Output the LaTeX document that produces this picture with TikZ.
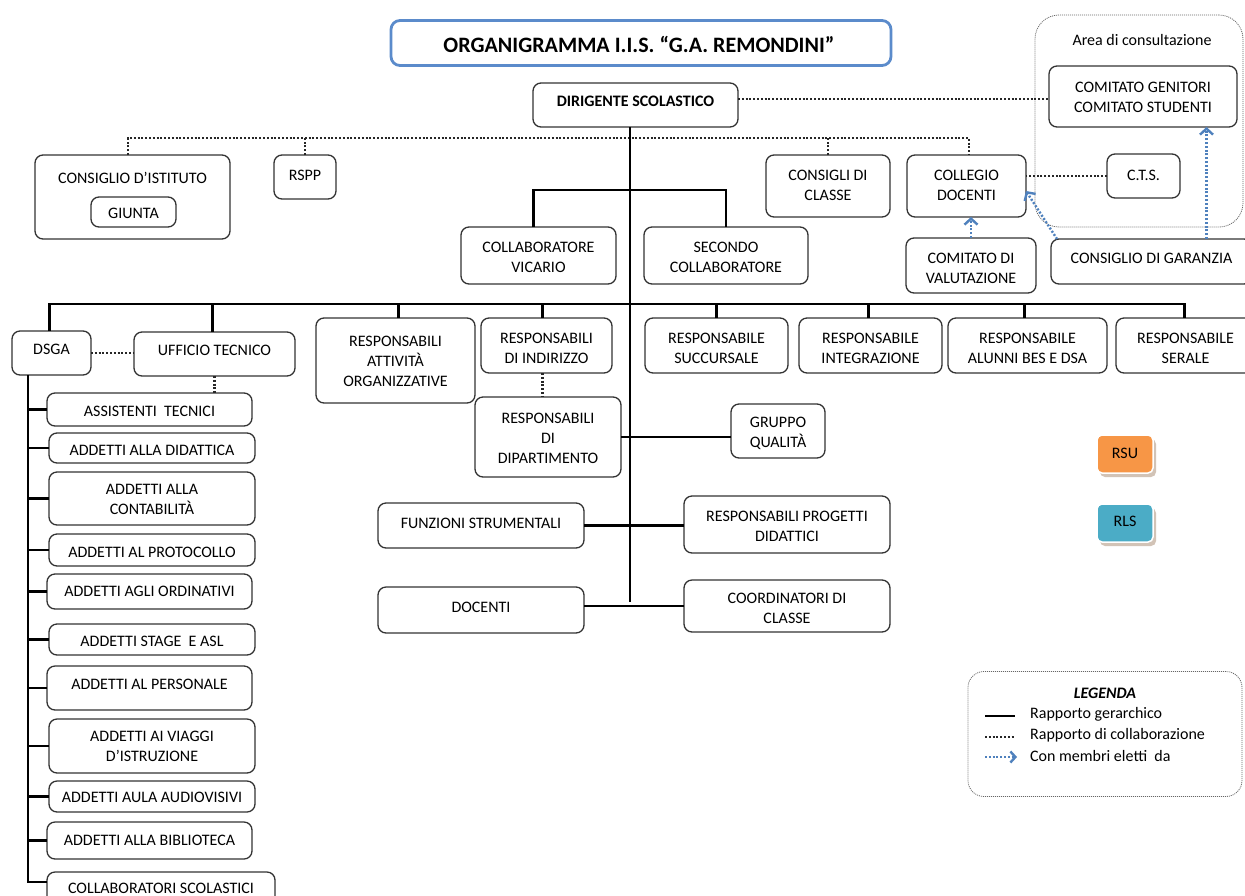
\documentclass[tikz,border=0pt]{standalone}
\usepackage{fontspec}
\setmainfont{Carlito}
\usetikzlibrary{arrows.meta,shadows}
\definecolor{bl}{HTML}{4F81BD}
\definecolor{ttl}{HTML}{5B8BCB}
\definecolor{rsuc}{HTML}{F79646}
\definecolor{rlsc}{HTML}{4BACC6}
\definecolor{bd}{HTML}{333333}
\definecolor{shd}{HTML}{D2C3B6}
\newcommand\bx[7]{%
  \node[box,minimum width={#4-#2},minimum height={#5-#3}] (#1) at ({(#2+#4)/2},{(#3+#5)/2}) {};
  \node[txt] (#1-t) at ({(#2+#4)/2},#6) {#7};}
\begin{document}
\begin{tikzpicture}[x=1pt,y=-1pt,
  box/.style={draw=bd,line width=1.3pt,rounded corners=8pt,fill=white,inner sep=0pt,outer sep=0pt},
  txt/.style={font=\fontsize{16}{20}\selectfont,align=center,inner sep=0pt},
  hier/.style={line width=2.8pt,draw=black},
  collab/.style={line width=2.8pt,draw=black!85,dash pattern=on 2pt off 1.8pt},
  elect/.style={line width=2.4pt,draw=bl,dash pattern=on 2pt off 1.8pt,-{Straight Barb[length=6pt,width=13pt,line width=2.4pt]}},
  framebox/.style={draw=black!60,line width=0.8pt,dash pattern=on 1pt off 1pt,rounded corners=24pt,inner sep=0pt,outer sep=0pt},
  colbox/.style={draw=white,line width=1.5pt,rounded corners=5pt,inner sep=0pt,outer sep=0pt,
    drop shadow={shadow xshift=3pt,shadow yshift=-4pt,fill=shd,opacity=1}},
  ]
\useasboundingbox (0,0) rectangle (1245,895);
\fill[white] (0,0) rectangle (1245,895);

% area di consultazione
\node[framebox,minimum width=208,minimum height=212] (area) at (1139,121) {};
\node[txt,font=\fontsize{16}{20}\selectfont] (area-t) at (1142,40) {Area di consultazione};

% title
\node[draw=ttl,line width=2.8pt,rounded corners=9pt,fill=white,minimum width=500,minimum height=45,inner sep=0pt] (title) at (641,43) {};
\node[inner sep=0pt,font=\fontsize{22}{26}\selectfont\bfseries] (title-t) at (639,44) {ORGANIGRAMMA I.I.S. “G.A. REMONDINI”};

% top
\bx{ds}{533}{83}{738}{127}{101}{\textbf{DIRIGENTE SCOLASTICO}}
\bx{cg}{1049}{66}{1237}{127}{97}{COMITATO GENITORI\\COMITATO STUDENTI}
\bx{cts}{1107}{154}{1180}{198}{175}{C.T.S.}
\bx{ci}{35}{155}{230}{239}{178}{CONSIGLIO D’ISTITUTO}
\bx{giunta}{91}{197}{176}{227}{213}{GIUNTA}
\bx{rspp}{274}{155}{336}{199}{175}{RSPP}
\bx{cc}{766}{155}{890}{217}{185}{CONSIGLI DI\\CLASSE}
\bx{cd}{907}{155}{1026}{217}{185}{COLLEGIO\\DOCENTI}
\bx{cval}{906}{238}{1036}{293}{268}{COMITATO DI\\VALUTAZIONE}
\bx{cgar}{1051}{239}{1252}{284}{258}{CONSIGLIO DI GARANZIA}

% second level
\bx{cv}{461}{227}{616}{284}{257}{COLLABORATORE\\VICARIO}
\bx{sc}{644}{227}{808}{284}{257}{SECONDO\\COLLABORATORE}

% third level
\bx{dsga}{12}{331}{91}{375}{349}{DSGA}
\bx{ut}{134}{332}{295}{376}{350}{UFFICIO TECNICO}
\bx{rao}{316}{318}{475}{403}{361}{RESPONSABILI\\ATTIVITÀ\\ORGANIZZATIVE}
\bx{rdi}{481}{318}{612}{373}{348}{RESPONSABILI\\DI INDIRIZZO}
\bx{rdp}{475}{397}{621}{477}{438}{RESPONSABILI\\DI\\DIPARTIMENTO}
\bx{gq}{731}{404}{825}{458}{433}{GRUPPO\\QUALITÀ}
\bx{rsu}{645}{318}{788}{373}{348}{RESPONSABILE\\SUCCURSALE}
\bx{rin}{799}{318}{942}{373}{348}{RESPONSABILE\\INTEGRAZIONE}
\bx{rab}{948}{318}{1107}{373}{348}{RESPONSABILE\\ALUNNI BES E DSA}
\bx{rse}{1116}{318}{1255}{373}{348}{RESPONSABILE\\SERALE}

\bx{fs}{378}{503}{584}{548}{523}{FUNZIONI STRUMENTALI}
\bx{rpd}{684}{496}{890}{553}{526}{RESPONSABILI PROGETTI\\DIDATTICI}
\bx{doc}{378}{587}{584}{633}{607}{DOCENTI}
\bx{coord}{684}{580}{890}{632}{608}{COORDINATORI DI\\CLASSE}

% DSGA column
\bx{at}{47}{393}{252}{426}{411}{ASSISTENTI \ TECNICI}
\bx{ad}{49}{433}{255}{463}{450}{ADDETTI ALLA DIDATTICA}
\bx{ac}{49}{472}{255}{525}{499}{ADDETTI ALLA\\CONTABILITÀ}
\bx{ap}{49}{534}{255}{566}{552}{ADDETTI AL PROTOCOLLO}
\bx{ao}{47}{574}{252}{609}{591}{ADDETTI AGLI ORDINATIVI}
\bx{as}{49}{624}{255}{655}{641}{ADDETTI STAGE \ E ASL}
\bx{apers}{47}{666}{252}{710}{684}{ADDETTI AL PERSONALE}
\bx{av}{49}{719}{255}{773}{746}{ADDETTI AI VIAGGI\\D’ISTRUZIONE}
\bx{aa}{49}{781}{255}{812}{797}{ADDETTI AULA AUDIOVISIVI}
\bx{ab}{47}{822}{252}{859}{840}{ADDETTI ALLA BIBLIOTECA}
\bx{cs}{47}{872}{275}{905}{888}{COLLABORATORI SCOLASTICI}

% RSU / RLS
\node[colbox,fill=rsuc,minimum width=56,minimum height=38] (rsuN) at (1125,454) {};
\node[txt] (rsuN-t) at (1125,453) {RSU};
\node[colbox,fill=rlsc,minimum width=56,minimum height=38] (rls) at (1125,523) {};
\node[txt] (rls-t) at (1125,521) {RLS};

% ---------- connectors ----------
\coordinate (top) at (630,138);
\coordinate (spine) at (630,602);
\coordinate (bus2) at (630,190);
\coordinate (bus3) at (630,304);
\coordinate (col) at (28,882);

% collaboration (dotted)
\draw[collab] ([xshift=-4.5pt]ci.north) -- ([xshift=-4.5pt]ci.north |- top) -- ([xshift=2.5pt]cd.north |- top) -- ([xshift=2.5pt]cd.north);
\draw[collab] (rspp.north) -- (rspp.north |- top);
\draw[collab] (cc.north) -- (cc.north |- top);
\draw[collab] ([yshift=6pt]ds.east) -- ([yshift=6pt]ds.east -| cg.west);
\draw[collab] (cts.west) -- (cts.west -| cd.east);
\draw[collab] (dsga.east) -- (dsga.east -| ut.west);
\draw[collab] (ut.south) -- (ut.south |- at.north);
\draw[collab] ([xshift=-4pt]rdi.south) -- ([xshift=-4pt]rdi.south |- rdp.north);

% hierarchy (solid)
\draw[hier] (ds.south -| spine) -- (spine);
\draw[hier] ([xshift=-5pt]cv.north) -- ([xshift=-5pt]cv.north |- bus2) -- (sc.north |- bus2) -- (sc.north);
\draw[hier] ([xshift=-2pt]dsga.north) -- ([xshift=-2pt]dsga.north |- bus3) -- ([xshift=-1pt]rse.north |- bus3) -- ([xshift=-1pt]rse.north);
\foreach \n/\s in {ut/-2,rao/3,rdi/-4,rsu/0,rin/-2,rab/-3}
  \draw[hier] ([xshift=\s pt]\n.north) -- ([xshift=\s pt]\n.north |- bus3);
\draw[hier] (rdp.east) -- (rdp.east -| gq.west);
\draw[hier] (fs.east) -- (fs.east -| rpd.west);
\draw[hier] (coord.west) -- (coord.west -| doc.east);
\draw[hier] (dsga.south -| col) -- (col) -- (col -| cs.west);
\foreach \n in {at,ad,ac,ap,ao,as,apers,av,aa,ab}
  \draw[hier] (\n.west) -- (\n.west -| col);

% elected (blue dotted arrows)
\draw[elect] (cval.north) -- (cval.north |- cd.south);
\draw[elect] ([xshift=55pt]cgar.north) -- ([xshift=55pt]cgar.north |- cg.south);
\draw[elect] ([xshift=6pt]cgar.north west) -- ([yshift=-5pt]cd.east);

% legend
\node[framebox,rounded corners=16pt,minimum width=274,minimum height=125] (leg) at (1105,734) {};
\node[inner sep=0pt,font=\fontsize{16}{20}\selectfont\bfseries\itshape] (leg-h) at (1105,693) {LEGENDA};
\coordinate (l1a) at (985,716); \coordinate (l1b) at (1015,716);
\coordinate (l2a) at (985,737); \coordinate (l2b) at (1015,737);
\coordinate (l3a) at (985,757); \coordinate (l3b) at (1017,757);
\draw[hier] (l1a) -- (l1b);
\draw[collab] (l2a) -- (l2b);
\draw[elect,-{Straight Barb[length=5pt,width=11pt,line width=2.4pt]}] (l3a) -- (l3b);
\node[txt,anchor=west] (leg1) at (1030,714) {Rapporto gerarchico};
\node[txt,anchor=west] (leg2) at (1030,735) {Rapporto di collaborazione};
\node[txt,anchor=west] (leg3) at (1030,756) {Con membri eletti \ da};
\end{tikzpicture}
\end{document}
